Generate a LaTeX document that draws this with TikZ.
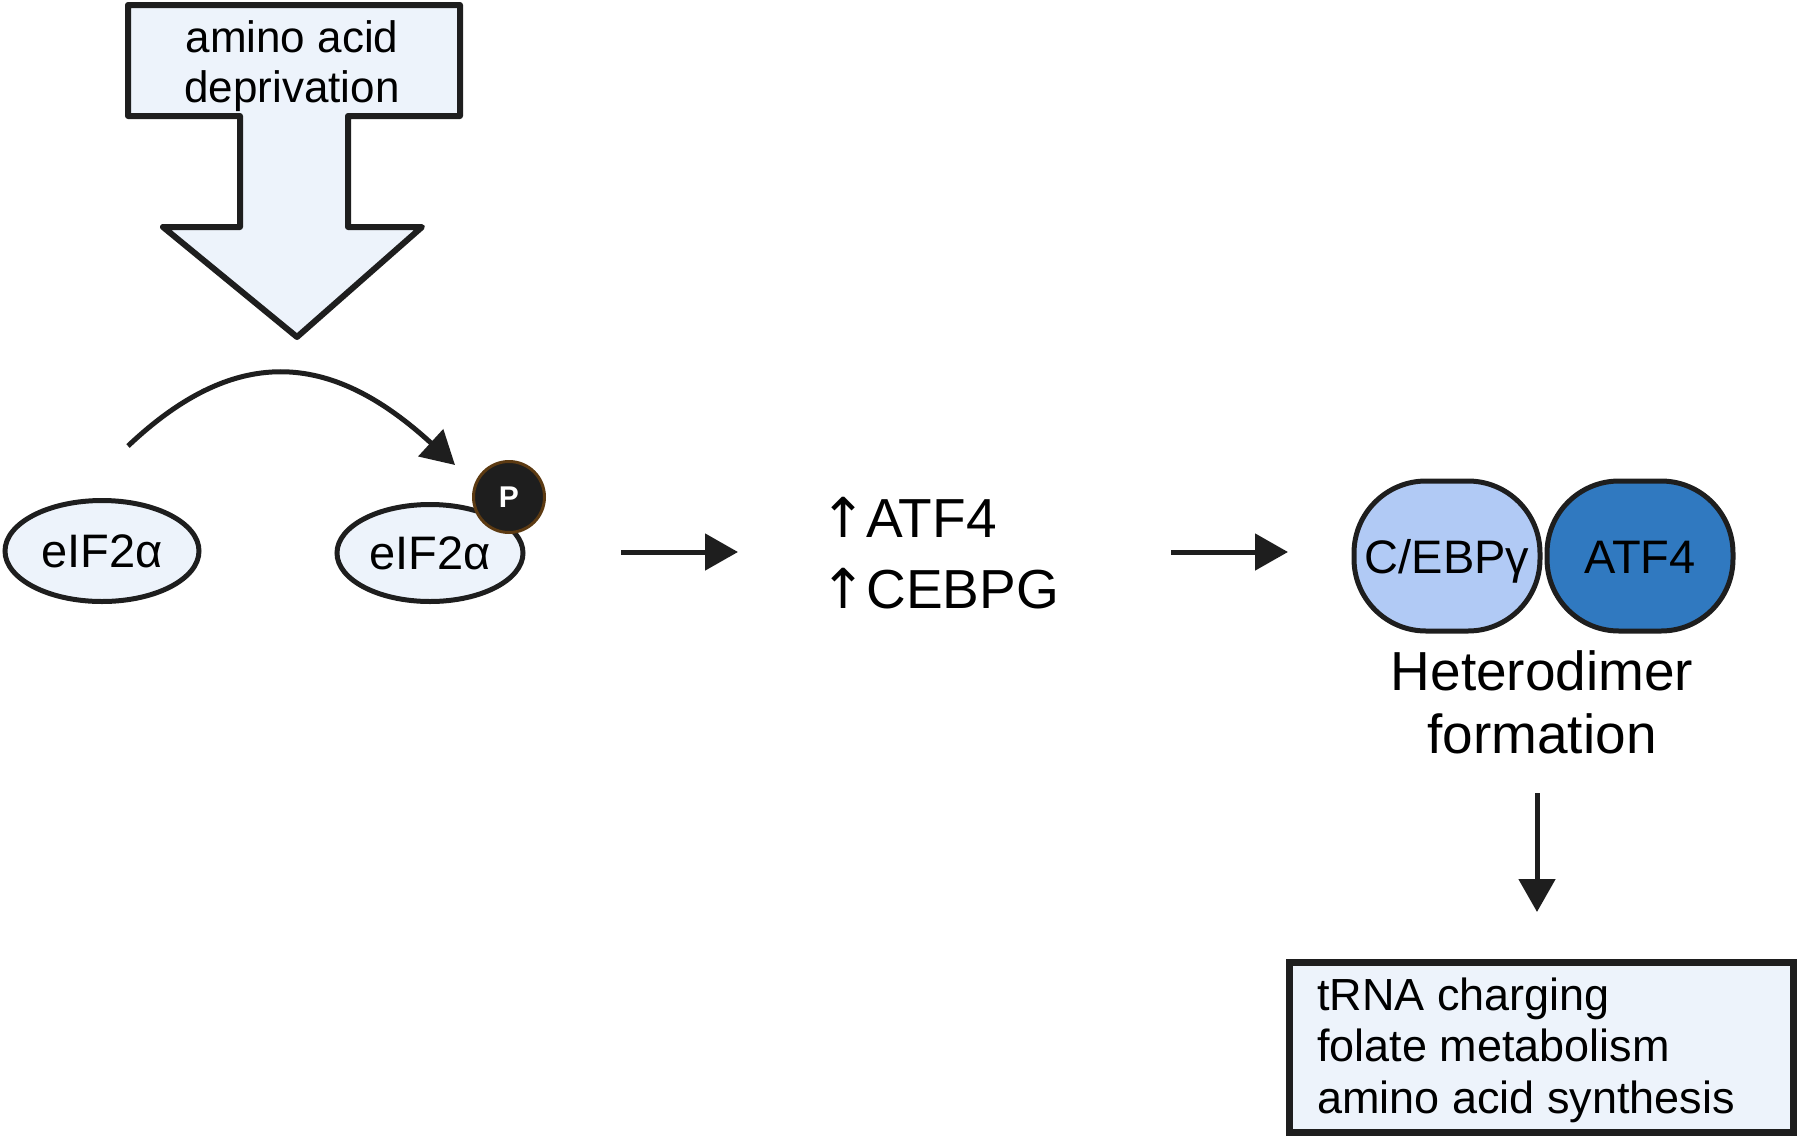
\documentclass[tikz,border=0pt]{standalone}
\usepackage{fontspec}
\setmainfont{Liberation Sans}
\newfontfamily\arrowfont{DejaVu Sans}
\usetikzlibrary{shapes.geometric,arrows.meta}
\definecolor{lightfill}{HTML}{EDF3FB}
\definecolor{inkc}{HTML}{1E1E1E}
\definecolor{cebpfill}{HTML}{B1CAF5}
\definecolor{atffill}{HTML}{3079C0}
\definecolor{pborder}{HTML}{5C3A12}
\tikzset{
  conn/.style={draw=inkc, line width=5pt, -{Triangle[length=33pt,width=36pt]}},
  protein/.style={ellipse, draw=inkc, fill=lightfill, line width=5pt, minimum width=194pt, minimum height=101pt, inner sep=0pt, font=\fontsize{47}{50}\selectfont},
  blob/.style={draw=inkc, line width=5pt, rounded corners=72pt, minimum width=186pt, minimum height=150pt, inner sep=0pt, text height=34pt, text depth=0pt, font=\fontsize{47}{55}\selectfont},
  plain/.style={inner sep=0pt},
}
\begin{document}
\begin{tikzpicture}[x=1pt,y=-1pt]
\useasboundingbox (0,0) rectangle (1800,1141);
% block arrow
\draw[draw=inkc, fill=lightfill, line width=6pt, line join=round]
  (128,5) -- (460,5) -- (460,116) -- (348,116) -- (348,227) -- (422,227) -- (297,337)
  -- (163,227) -- (240,227) -- (240,116) -- (128,116) -- cycle;
\node[plain, align=center, anchor=base, font=\fontsize{44}{50}\selectfont] (aad) at (292,102) {amino acid\\deprivation};
% eIF2a
\node[protein] (e1) at (102,551) {eIF2α};
\node[protein, minimum width=186pt, minimum height=97pt] (e2) at (430,553) {eIF2α};
\node[circle, draw=pborder, fill=inkc, line width=3pt, minimum size=71pt, inner sep=0pt, text=white, font=\fontsize{30}{34}\selectfont\bfseries] (p) at (509,497) {P};
\coordinate (cs) at (128,446);
\coordinate (ce) at (455,465);
\draw[conn] (cs) .. controls (240,340) and (335,355) .. (ce);
% arrow 1
\coordinate (a1s) at (621,552);
\coordinate (a1e) at (738,552);
\draw[conn] (a1s) -- (a1e);
\node[plain, align=left, anchor=base west, font=\fontsize{55}{71}\selectfont] (up) at (820,608) {{\arrowfont ↑}ATF4\\{\arrowfont ↑}CEBPG};
% arrow 2
\coordinate (a2s) at (1171,552);
\coordinate (a2e) at (1288,552);
\draw[conn] (a2s) -- (a2e);
% heterodimer
\node[blob, fill=cebpfill] (cebp) at (1447,556) {C/EBPγ};
\node[blob, fill=atffill] (atf) at (1640,556) {ATF4};
\node[plain, align=center, anchor=base, font=\fontsize{55}{63}\selectfont] (het) at (1542,753) {Heterodimer\\formation};
% down arrow
\coordinate (a3s) at (1537,793);
\coordinate (a3e) at (1537,912);
\draw[conn] (a3s) -- (a3e);
% output box
\node[draw=inkc, fill=lightfill, line width=7pt, minimum width=504pt, minimum height=170pt, anchor=north west, inner sep=0pt] (box) at (1285.5,958.5) {};
\node[plain, align=left, anchor=base west, font=\fontsize{45}{51.5}\selectfont] (boxtext) at (1317,1113) {tRNA charging\\folate metabolism\\amino acid synthesis};
\end{tikzpicture}
\end{document}
